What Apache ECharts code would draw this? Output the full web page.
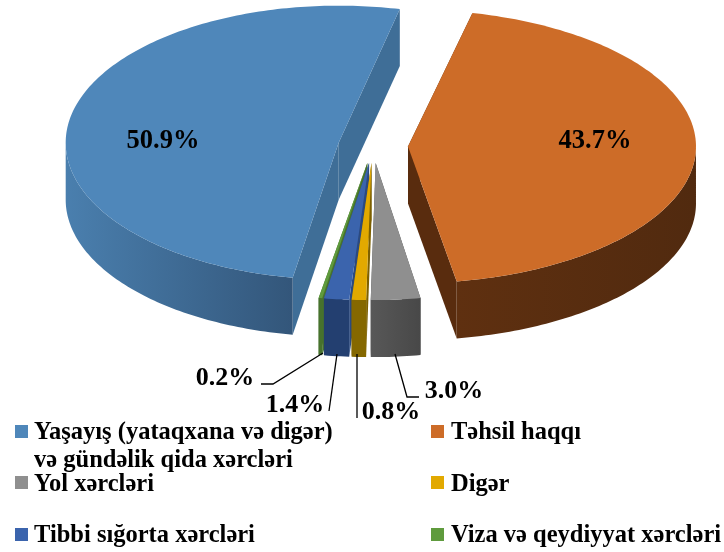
<!DOCTYPE html>
<html>
<head>
<meta charset="utf-8">
<style>
  html, body { margin: 0; padding: 0; background: #fff; }
  #chart { width: 724px; height: 552px; }
</style>
<script src="https://cdn.jsdelivr.net/npm/echarts@6/dist/echarts.min.js"></script>
</head>
<body>
<div id="chart"></div>
<script>
// data
const categories = [
  'Yaşayış (yataqxana və digər)\nvə gündəlik qida xərcləri',
  'Təhsil haqqı',
  'Yol xərcləri',
  'Digər',
  'Tibbi sığorta xərcləri',
  'Viza və qeydiyyat xərcləri'
];
const shares = [50.9, 43.7, 3.0, 0.8, 1.4, 0.2];

// colours: top face, cut face, outer wall (left to right)
const topColors = ['#4f87ba', '#cd6c28', '#8f8f8f', '#e2a900', '#3b64ad', '#5f9b3d'];
const cutColors = ['#3f6e97', '#592c0e', '#4a4a4a', '#7d6000', '#2b4a80', '#47722d'];
const wallColors = [
  ['#4a7fae', '#33567a'],
  ['#5f3010', '#512a0f'],
  ['#585858', '#484848'],
  ['#856800', '#856800'],
  ['#233f70', '#233f70'],
  ['#47722d', '#47722d']
];

// pie layout
const cx = 373;
const cy = 146;
const ry = 137;
const depth = 57;
const explode = 0.125;
const startAngle = 189.7;
const radiusX = [273, 288, 265, 289, 289, 289];

// outside label layout: [text x, text y, leader line points]
const labelLayout = [
  null,
  null,
  [454, 391, [[395, 354], [407, 397], [419, 397]]],
  [391, 412, [[357, 354], [357, 418]]],
  [295, 405, [[337, 354], [329, 411]]],
  [225, 378, [[323, 353], [273, 384], [261, 384]]]
];
const insideLabels = [[163, 141], [595, 141]];

// legend layout: [swatch x, swatch y, text x, text y]
const legendLayout = [
  [15, 425, 34, 433],
  [431, 425, 451, 433],
  [15, 476, 34, 485],
  [431, 476, 451, 485],
  [15, 528, 34, 536],
  [431, 528, 451, 536]
];

const font = '"Liberation Serif", "Times New Roman", serif';
const total = shares.reduce((a, b) => a + b, 0);

function rad(deg) { return deg * Math.PI / 180; }

function sliceRange(idx) {
  let a = startAngle;
  for (let i = 0; i < idx; i++) a += shares[i] / total * 360;
  return [a, a + shares[idx] / total * 360];
}

function renderSlice(params, api) {
  const idx = params.dataIndex;
  const [a0, a1] = sliceRange(idx);
  const rx = radiusX[idx];
  const mid = rad((a0 + a1) / 2);
  const ax = cx + explode * 280 * Math.sin(mid);
  const ay = cy - explode * ry * Math.cos(mid);
  const rim = deg => [ax + rx * Math.sin(rad(deg)), ay - ry * Math.cos(rad(deg))];
  const down = p => [p[0], p[1] + depth];
  // later slices go underneath, the cut face of a small slice must not cover its neighbour
  const z2 = shares.length - idx;

  // top face outline
  const arc = [];
  const steps = Math.max(2, Math.ceil(a1 - a0));
  for (let i = 0; i <= steps; i++) arc.push(rim(a0 + (a1 - a0) * i / steps));

  // outer wall is only the part of the rim facing the viewer
  const wallArc = arc.filter(p => p[1] >= ay);
  const children = [];

  [arc[0], arc[arc.length - 1]].forEach(p => {
    children.push({
      type: 'polygon',
      z2,
      shape: { points: [[ax, ay], p, down(p), down([ax, ay])] },
      style: { fill: cutColors[idx] }
    });
  });

  if (wallArc.length > 1) {
    children.push({
      type: 'polygon',
      z2,
      shape: { points: wallArc.concat(wallArc.map(down).reverse()) },
      style: {
        fill: new echarts.graphic.LinearGradient(0, 0, 1, 0, [
          { offset: 0, color: wallColors[idx][0] },
          { offset: 1, color: wallColors[idx][1] }
        ])
      }
    });
  }

  children.push({
    type: 'polygon',
    z2,
    shape: { points: [[ax, ay]].concat(arc) },
    style: { fill: topColors[idx] }
  });

  return { type: 'group', children };
}

const pct = v => v.toFixed(1) + '%';
const graphics = [];

insideLabels.forEach((pos, i) => {
  graphics.push({
    type: 'text', x: pos[0], y: pos[1], z: 10,
    style: {
      text: pct(shares[i]), font: 'bold 26.5px ' + font, fill: '#000',
      textAlign: 'center', textVerticalAlign: 'middle'
    }
  });
});

labelLayout.forEach((item, i) => {
  if (!item) return;
  graphics.push({
    type: 'polyline', z: 10,
    shape: { points: item[2] },
    style: { stroke: '#000', lineWidth: 1.3, fill: 'none' }
  });
  graphics.push({
    type: 'text', x: item[0], y: item[1], z: 10,
    style: {
      text: pct(shares[i]), font: 'bold 26px ' + font, fill: '#000',
      textAlign: 'center', textVerticalAlign: 'middle'
    }
  });
});

categories.forEach((name, i) => {
  const l = legendLayout[i];
  graphics.push({
    type: 'rect', z: 10,
    shape: { x: l[0], y: l[1], width: 13, height: 13 },
    style: { fill: topColors[i] }
  });
  name.split('\n').forEach((line, j) => {
    graphics.push({
      type: 'text', x: l[2], y: l[3] + j * 28, z: 10,
      style: {
        text: line, font: 'bold 24.5px ' + font, fill: '#000',
        textAlign: 'left', textVerticalAlign: 'middle'
      }
    });
  });
});

const chart = echarts.init(document.getElementById('chart'));
chart.setOption({
  animation: false,
  backgroundColor: '#fff',
  series: [{
    type: 'custom',
    coordinateSystem: 'none',
    renderItem: renderSlice,
    data: shares,
    silent: true
  }],
  graphic: graphics
});
</script>
</body>
</html>
